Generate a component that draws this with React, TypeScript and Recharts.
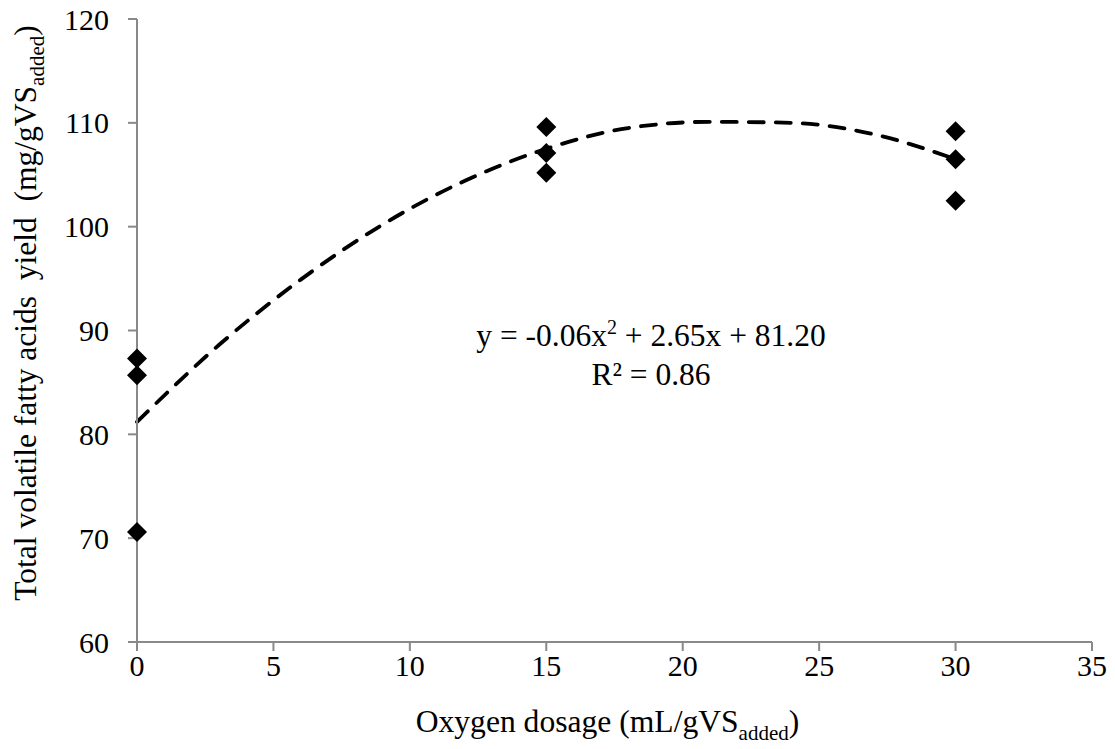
import React from "react";
import {
  ComposedChart,
  Scatter,
  Line,
  XAxis,
  YAxis,
} from "recharts";

// measured samples (triplicates at each dosage)
const dosage = [0, 0, 0, 15, 15, 15, 30, 30, 30];
const vfaYield = [87.3, 85.7, 70.6, 109.6, 107.1, 105.2, 109.2, 106.5, 102.5];

// polynomial trendline
const trendX = [0, 3, 6, 9, 12, 15, 18, 21, 24, 27, 30];
const trendY = [81.2, 88.6, 94.9, 100.2, 104.4, 107.5, 109.5, 110.1, 110.0, 108.9, 106.5];

const xTicks = [0, 5, 10, 15, 20, 25, 30, 35];
const yTicks = [60, 70, 80, 90, 100, 110, 120];

const points = dosage.map((x, i) => ({ x, y: vfaYield[i] }));
const trend = trendX.map((x, i) => ({ x, t: trendY[i] }));

const FONT = "'Times New Roman', Times, 'Liberation Serif', serif";
const AXIS = "#898989";

const Diamond = (props: any) => {
  const { cx, cy } = props;
  const r = 10;
  return (
    <polygon
      points={`${cx},${cy - r} ${cx + r},${cy} ${cx},${cy + r} ${cx - r},${cy}`}
      fill="#000"
    />
  );
};

const XTitle = (props: any) => {
  const vb = props.viewBox;
  const cx = vb.x + vb.width / 2 - 7;
  return (
    <text x={cx} y={724} textAnchor="middle" fontFamily={FONT} fontSize={31.6} fill="#000">
      Oxygen dosage (mL/gVS
      <tspan fontSize={21} dy={8}>added</tspan>
      <tspan dy={-8}>)</tspan>
    </text>
  );
};

const YTitle = () => {
  return (
    <text
      x={0}
      y={0}
      transform="translate(28, 305) rotate(-90)"
      textAnchor="middle"
      fontFamily={FONT}
      fontSize={31.5}
      style={{ whiteSpace: "pre" }}
      fill="#000"
    >
      {"Total volatile fatty acids  yield  (mg/gVS"}
      <tspan fontSize={21} dy={8}>added</tspan>
      <tspan dy={-8}>)</tspan>
    </text>
  );
};

export default function App() {
  return (
    <div style={{ position: "relative", width: 1107, height: 741, fontFamily: FONT }}>
      <ComposedChart
        width={1107}
        height={741}
        margin={{ top: 11, right: 23, left: 0, bottom: 0 }}
        style={{ overflow: "visible" }}
      >
        <XAxis
          type="number"
          dataKey="x"
          domain={[0, 35]}
          ticks={xTicks}
          interval={0}
          height={107}
          tickSize={9}
          tickMargin={4}
          stroke={AXIS}
          strokeWidth={2}
          tick={{ fill: "#000", fontSize: 30, fontFamily: FONT }}
          label={<XTitle />}
        />
        <YAxis
          type="number"
          domain={[60, 120]}
          ticks={yTicks}
          interval={0}
          width={129}
          tickSize={9}
          tickMargin={19}
          stroke={AXIS}
          strokeWidth={2}
          tick={{ fill: "#000", fontSize: 30, fontFamily: FONT }}
          label={<YTitle />}
        />
        <Line
          data={trend}
          dataKey="t"
          type="monotone"
          stroke="#000"
          strokeWidth={3.8}
          strokeDasharray="15 12"
          strokeLinecap="round"
          dot={false}
          activeDot={false}
          isAnimationActive={false}
        />
        <Scatter
          data={points}
          dataKey="y"
          shape={<Diamond />}
          isAnimationActive={false}
        />
      </ComposedChart>
      <svg
        width={1107}
        height={741}
        style={{ position: "absolute", left: 0, top: 0, pointerEvents: "none" }}
      >
        <text x={643} y={338} textAnchor="middle" fontFamily={FONT} fontSize={31.5} fill="#000">
          y = -0.06x
          <tspan fontSize={20} dy={-12}>2</tspan>
          <tspan dy={12}> + 2.65x + 81.20</tspan>
        </text>
        <text x={643} y={377} textAnchor="middle" fontFamily={FONT} fontSize={31.5} fill="#000">
          R² = 0.86
        </text>
      </svg>
    </div>
  );
}
